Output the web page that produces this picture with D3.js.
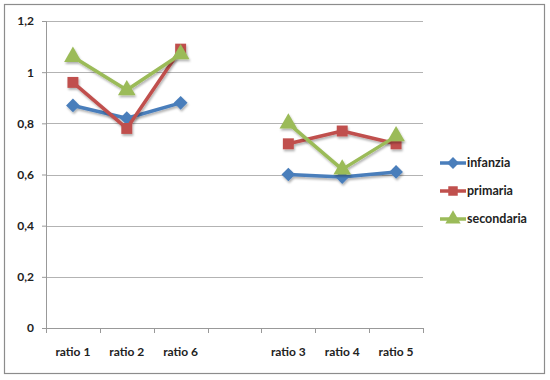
<!DOCTYPE html>
<html>
<head>
<meta charset="utf-8">
<script src="https://cdn.jsdelivr.net/npm/d3@7"></script>
<style>
  body { margin: 0; background: #fff; }
  svg text { font-family: Lato, "Open Sans", sans-serif; font-weight: bold; fill: #222; }
</style>
</head>
<body>
<div class="chart"></div>
<script>
// categories ("" is the empty gap column in the original sheet)
const categories = ["ratio 1", "ratio 2", "ratio 6", "", "ratio 3", "ratio 4", "ratio 5"];
const infanzia   = [0.87, 0.82, 0.88, null, 0.60, 0.59, 0.61];
const primaria   = [0.96, 0.78, 1.09, null, 0.72, 0.77, 0.72];
const secondaria = [1.06, 0.93, 1.07, null, 0.80, 0.62, 0.75];
const yTicks = [0, 0.2, 0.4, 0.6, 0.8, 1, 1.2];
const seriesNames = ["infanzia", "primaria", "secondaria"];
const seriesColors = ["#4a7ebb", "#c0504d", "#9bbb59"];
const seriesShapes = [d3.symbolDiamond2, d3.symbolSquare, d3.symbolTriangle];

const series = [infanzia, primaria, secondaria].map((vals, i) => ({
    name: seriesNames[i], color: seriesColors[i], shape: seriesShapes[i],
    values: vals.map((v, j) => ({ cat: categories[j], idx: j, v: v }))
}));

const width = 550, height = 380;
const margin = { top: 21, right: 127, bottom: 52, left: 46 };
const innerW = width - margin.left - margin.right;
const innerH = height - margin.top - margin.bottom;

const svg = d3.select(".chart").append("svg")
    .attr("width", width)
    .attr("height", height);

// drop shadow like the excel export
const defs = svg.append("defs");
const f = defs.append("filter").attr("id", "shadow")
    .attr("x", "-20%").attr("y", "-20%").attr("width", "140%").attr("height", "140%");
f.append("feDropShadow").attr("dx", 1).attr("dy", 2).attr("stdDeviation", 1.2)
    .attr("flood-color", "#000").attr("flood-opacity", 0.3);

// outer frame
svg.append("rect")
    .attr("x", 4.5).attr("y", 4.5)
    .attr("width", 540).attr("height", 369)
    .attr("fill", "#fff").attr("stroke", "#8c8c8c").attr("stroke-width", 1.2);

const g = svg.append("g")
    .attr("transform", "translate(" + margin.left + "," + margin.top + ")");

const x = d3.scaleBand()
    .domain(d3.range(categories.length))
    .range([0, innerW]);

const y = d3.scaleLinear()
    .domain([0, 1.2])
    .range([innerH, 0]);

// gridlines
g.append("g").selectAll("line")
    .data(yTicks.filter(d => d > 0))
    .enter().append("line")
    .attr("x1", 0).attr("x2", innerW)
    .attr("y1", d => Math.round(y(d)) + 0.5).attr("y2", d => Math.round(y(d)) + 0.5)
    .attr("stroke", "#b3b3b3");

// y axis
const yAxis = d3.axisLeft(y)
    .tickValues(yTicks)
    .tickFormat(d => String(d).replace(".", ","))
    .tickSize(4)
    .tickPadding(8);
const yg = g.append("g").attr("class", "y-axis axis").call(yAxis);
yg.selectAll("text").style("font-size", "12px");
yg.select(".domain").attr("stroke", "#999");
yg.selectAll(".tick line").attr("stroke", "#999");

// x axis with excel-style boundary ticks
const xg = g.append("g")
    .attr("class", "x-axis axis")
    .attr("transform", "translate(0," + innerH + ")");
xg.append("line")
    .attr("x1", 0).attr("x2", innerW).attr("y1", 0.5).attr("y2", 0.5)
    .attr("stroke", "#999");
xg.selectAll(".bt")
    .data(d3.range(categories.length + 1))
    .enter().append("line")
    .attr("class", "bt")
    .attr("x1", d => Math.round(d * x.bandwidth()) + 0.5)
    .attr("x2", d => Math.round(d * x.bandwidth()) + 0.5)
    .attr("y1", 0).attr("y2", 5)
    .attr("stroke", "#999");
xg.selectAll("text")
    .data(categories)
    .enter().append("text")
    .attr("x", (d, i) => x(i) + x.bandwidth() / 2)
    .attr("y", 28)
    .attr("text-anchor", "middle")
    .style("font-size", "12px")
    .text(d => d);

// lines
const line = d3.line()
    .defined(d => d.v !== null)
    .x(d => x(d.idx) + x.bandwidth() / 2)
    .y(d => y(d.v));

const sg = g.selectAll(".series")
    .data(series)
    .enter().append("g")
    .attr("class", "series")
    .attr("filter", "url(#shadow)");

sg.append("path")
    .attr("d", d => line(d.values))
    .attr("fill", "none")
    .attr("stroke", d => d.color)
    .attr("stroke-width", 3.5)
    .attr("stroke-linejoin", "round");

const symSize = [120, 120, 135];
sg.each(function (s, i) {
    d3.select(this).selectAll("path.pt")
        .data(s.values.filter(d => d.v !== null))
        .enter().append("path")
        .attr("class", "pt")
        .attr("transform", d => "translate(" + (x(d.idx) + x.bandwidth() / 2) + "," + y(d.v) + ")")
        .attr("d", d3.symbol().type(s.shape).size(symSize[i]))
        .attr("fill", s.color);
});

// legend
const legend = svg.append("g").attr("transform", "translate(440,0)");
const lg = legend.selectAll(".lg")
    .data(series)
    .enter().append("g")
    .attr("class", "lg")
    .attr("transform", (d, i) => "translate(0," + (163 + i * 28) + ")");
lg.append("line")
    .attr("x1", 0).attr("x2", 26)
    .attr("stroke", d => d.color)
    .attr("stroke-width", 3.5);
lg.append("path")
    .attr("transform", "translate(13,0)")
    .attr("d", (d, i) => d3.symbol().type(d.shape).size(symSize[i] * 0.75)())
    .attr("fill", d => d.color);
lg.append("text")
    .attr("x", 27)
    .attr("dy", "0.35em")
    .style("font-size", "12.5px")
    .text(d => d.name);
</script>
</body>
</html>
